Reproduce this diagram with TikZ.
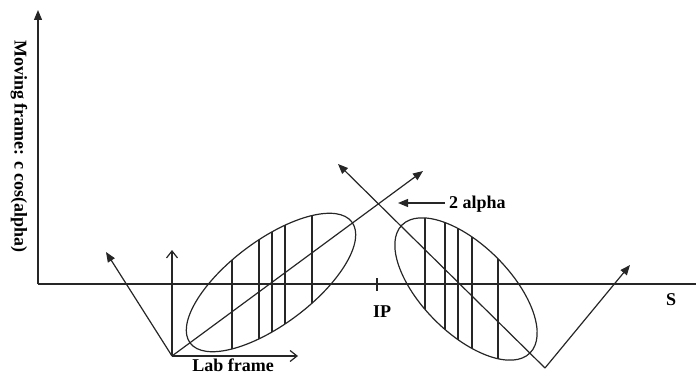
\documentclass[tikz,border=0pt]{standalone}
\usepackage{fontspec}
\setmainfont{Liberation Serif}
\usetikzlibrary{arrows.meta}
\begin{document}
\begin{tikzpicture}[x=1pt,y=-1pt,
  ln/.style={draw=black!85,line width=1.2pt},
  filledtip/.style={-{Triangle[length=10pt,width=8pt]}},
  opentip/.style={-{Straight Barb[length=7pt,width=11pt]}},
  lbl/.style={font=\fontsize{18}{20}\selectfont\bfseries,inner sep=0pt},
  hatch/.style={draw=black!85,line width=1.1pt}]
\useasboundingbox (0,0) rectangle (696,374);
% coordinates
\coordinate (O) at (38,284);
\coordinate (Ytop) at (38,10);
\coordinate (Xend) at (696,284);
\coordinate (LO) at (172,356);
\coordinate (LUp) at (172,250);
\coordinate (LRight) at (298,356);
\coordinate (LLeft) at (106,252);
\coordinate (DiagTip) at (423,171);
\coordinate (RA) at (545,368);
\coordinate (ULTip) at (338,164);
\coordinate (RTip) at (630,265);
\coordinate (cL) at (271,282.5);
\coordinate (cR) at (466,289);
\coordinate (IPa) at (377,278);
\coordinate (IPb) at (377,291);
\coordinate (AlS) at (445,203);
\coordinate (AlT) at (398,203);
% axes
\draw[ln,filledtip] (O) -- (Ytop);
\draw[ln] (O) -- (Xend);
\draw[ln] (IPa) -- (IPb);
% lab frame
\draw[ln,opentip] (LO) -- (LUp);
\draw[ln,opentip] (LO) -- (LRight);
\draw[ln,filledtip] (LO) -- (LLeft);
\draw[ln,filledtip] (LO) -- (DiagTip);
% right V
\draw[ln,filledtip] (RA) -- (ULTip);
\draw[ln,filledtip] (RA) -- (RTip);
% ellipses
\draw[ln] (cL) circle[x radius=101pt,y radius=42pt,rotate=36.8];
\draw[ln] (cR) circle[x radius=90.5pt,y radius=44pt,rotate=-45];
\begin{scope}
  \clip (cL) circle[x radius=101pt,y radius=42pt,rotate=36.8];
  \foreach \xx in {232,259,272,285,312} \draw[hatch] (\xx,150) -- (\xx,400);
\end{scope}
\begin{scope}
  \clip (cR) circle[x radius=90.5pt,y radius=44pt,rotate=-45];
  \foreach \xx in {425,445,458,472,498} \draw[hatch] (\xx,150) -- (\xx,400);
\end{scope}
% 2 alpha
\draw[ln,filledtip] (AlS) -- (AlT);
\node[lbl,anchor=west] (alpha) at (449,204) {2 alpha};
% labels
\node[lbl] (ip) at (382,312) {IP};
\node[lbl] (s) at (671,300) {S};
\node[lbl,anchor=base] (lab) at (233,371) {Lab frame};
\node[lbl,rotate=-90] (mov) at (19,146.5) {Moving frame: c cos(alpha)};
\end{tikzpicture}
\end{document}
